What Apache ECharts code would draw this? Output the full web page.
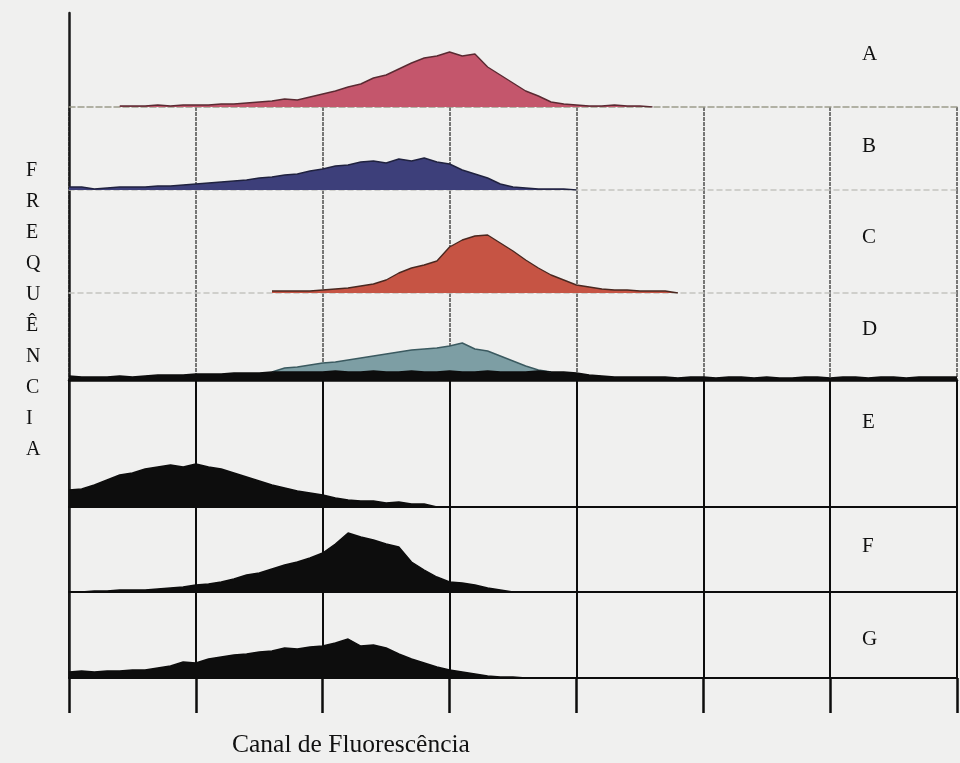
<!DOCTYPE html>
<html>
<head>
<meta charset="utf-8">
<script src="https://cdn.jsdelivr.net/npm/echarts@6/dist/echarts.min.js"></script>
<style>
  html, body { margin: 0; padding: 0; background: #f0f0ef; }
  #chart { width: 960px; height: 763px; }
</style>
</head>
<body>
<div id="chart"></div>
<script>
// fluorescence channel (x), 0..70, one grid division every 10 channels
const channels = Array.from({ length: 71 }, (_, i) => i);
const panelNames = ["A", "B", "C", "D", "E", "F", "G"];

// frequency (null = no events)
const freqA = [null, null, null, null, 1, 1, 1, 2, 1, 2,
  2, 2, 3, 3, 4, 5, 6, 8, 7, 10,
  13, 16, 20, 23, 29, 32, 38, 44, 49, 51,
  55, 51, 53, 40, 32, 24, 16, 11, 5, 3,
  2, 1, 1, 2, 1, 1, 0, null, null, null,
  null, null, null, null, null, null, null, null, null, null,
  null, null, null, null, null, null, null, null, null, null, null];
const freqB = [3, 3, 1, 2, 3, 3, 3, 4, 4, 5,
  6, 7, 8, 9, 10, 12, 13, 15, 16, 19,
  21, 24, 25, 28, 29, 27, 31, 29, 32, 28,
  26, 20, 16, 12, 6, 3, 2, 1, 1, 1,
  0, null, null, null, null, null, null, null, null, null,
  null, null, null, null, null, null, null, null, null, null,
  null, null, null, null, null, null, null, null, null, null, null];
const freqC = [null, null, null, null, null, null, null, null, null, null,
  null, null, null, null, null, null, 2, 2, 2, 2,
  3, 4, 5, 7, 9, 13, 20, 25, 28, 32,
  46, 53, 57, 58, 50, 42, 33, 25, 18, 13,
  8, 6, 4, 3, 3, 2, 2, 2, 0, null,
  null, null, null, null, null, null, null, null, null, null,
  null, null, null, null, null, null, null, null, null, null, null];
const freqDStained = [null, null, null, null, null, null, null, null, null, null,
  null, null, null, null, null, null, 8, 12, 13, 15,
  17, 18, 20, 22, 24, 26, 28, 30, 31, 32,
  34, 37, 31, 29, 24, 19, 14, 10, 8, null,
  null, null, null, null, null, null, null, null, null, null,
  null, null, null, null, null, null, null, null, null, null,
  null, null, null, null, null, null, null, null, null, null, null];
const freqDControl = [4, 3, 3, 3, 4, 3, 4, 5, 5, 5,
  6, 6, 6, 7, 7, 7, 8, 8, 8, 8,
  8, 9, 8, 8, 9, 8, 8, 9, 8, 8,
  9, 8, 8, 9, 8, 8, 8, 9, 8, 8,
  7, 5, 4, 3, 3, 3, 3, 3, 2, 3,
  3, 2, 3, 3, 2, 3, 2, 2, 3, 3,
  2, 3, 3, 2, 3, 3, 2, 3, 3, 3, 3];
const freqE = [17, 18, 22, 27, 32, 34, 38, 40, 42, 40,
  43, 40, 38, 34, 30, 26, 22, 19, 16, 14,
  12, 9, 7, 6, 6, 4, 5, 3, 3, 0,
  null, null, null, null, null, null, null, null, null, null,
  null, null, null, null, null, null, null, null, null, null,
  null, null, null, null, null, null, null, null, null, null,
  null, null, null, null, null, null, null, null, null, null, null];
const freqF = [0, 0, 1, 1, 2, 2, 2, 3, 4, 5,
  7, 8, 10, 13, 17, 19, 23, 27, 30, 34,
  39, 48, 59, 55, 52, 48, 45, 30, 22, 15,
  10, 9, 7, 4, 2, 0, null, null, null, null,
  null, null, null, null, null, null, null, null, null, null,
  null, null, null, null, null, null, null, null, null, null,
  null, null, null, null, null, null, null, null, null, null, null];
const freqG = [6, 7, 6, 7, 7, 8, 8, 10, 12, 16,
  15, 19, 21, 23, 24, 26, 27, 30, 29, 31,
  32, 35, 39, 32, 33, 30, 24, 19, 15, 11,
  8, 6, 4, 2, 1, 1, 0, null, null, null,
  null, null, null, null, null, null, null, null, null, null,
  null, null, null, null, null, null, null, null, null, null,
  null, null, null, null, null, null, null, null, null, null, null];

// panel frames (pixels) and y range of each panel
const panelTop = [13, 107, 190, 293, 380, 507, 592];
const panelHeight = [94, 83, 103, 87, 127, 85, 86];

const black = "#0d0d0d";

function pairs(values) {
  return channels.map((c, i) => [c, values[i]]);
}

function histo(name, values, panel, fill, edge) {
  return {
    name: name,
    type: "line",
    xAxisIndex: panel,
    yAxisIndex: panel,
    data: pairs(values),
    symbol: "none",
    connectNulls: false,
    lineStyle: { color: edge, width: 1.4 },
    areaStyle: { color: fill, opacity: 1 },
    animation: false
  };
}

const grids = [];
const xAxes = [];
const yAxes = [];
panelNames.forEach((p, k) => {
  grids.push({ left: 69, right: 3, top: panelTop[k], height: panelHeight[k] });
  let baseLine;
  if (k === 0) baseLine = { color: "#9c9c8c", width: 1.5, type: [6, 3] };
  else if (k < 3) baseLine = { color: "#c4c4c0", width: 1.5, type: [5, 4] };
  else baseLine = { color: black, width: k === 3 ? 2.5 : 2 };
  xAxes.push({
    gridIndex: k,
    type: "value",
    min: 0,
    max: 70,
    interval: 10,
    axisLine: { show: true, lineStyle: baseLine },
    axisTick: {
      show: k === 6,
      length: 35,
      inside: false,
      lineStyle: { color: black, width: 2.5 }
    },
    axisLabel: { show: false },
    splitLine: {
      show: k > 0,
      lineStyle: k < 4
        ? { color: "#4d4d4d", width: 1.5, type: [4, 1] }
        : { color: black, width: 2 }
    }
  });
  yAxes.push({
    gridIndex: k,
    type: "value",
    min: 0,
    max: panelHeight[k],
    axisLine: { show: true, lineStyle: { color: "#1a1a1a", width: 2.5 } },
    axisTick: { show: false },
    axisLabel: { show: false },
    splitLine: { show: false }
  });
});

const series = [
  histo("A", freqA, 0, "#c4566c", "#5a2a32"),
  histo("B", freqB, 1, "#3d3f7a", "#20223f"),
  histo("C", freqC, 2, "#c65444", "#4a2820"),
  histo("D", freqDStained, 3, "#7d9ea4", "#3b5a60"),
  histo("D controle", freqDControl, 3, black, black),
  histo("E", freqE, 4, black, black),
  histo("F", freqF, 5, black, black),
  histo("G", freqG, 6, black, black)
];

const labelY = [55, 147, 238, 330, 423, 547, 640];
const graphics = panelNames.map((p, k) => ({
  type: "text",
  left: 862,
  top: labelY[k] - 11,
  style: {
    text: p,
    font: "21px 'Liberation Serif', serif",
    fill: "#111"
  }
}));
graphics.push({
  type: "text",
  left: 26,
  top: 155,
  style: {
    text: "F\nR\nE\nQ\nU\nÊ\nN\nC\nI\nA",
    font: "20px 'Liberation Serif', serif",
    lineHeight: 31,
    align: "center",
    fill: "#111"
  }
});
graphics.push({
  type: "text",
  left: 232,
  top: 732,
  style: {
    text: "Canal de Fluorescência",
    font: "25.5px 'Liberation Serif', serif",
    fill: "#111"
  }
});

const chart = echarts.init(document.getElementById("chart"));
chart.setOption({
  backgroundColor: "#f0f0ef",
  animation: false,
  grid: grids,
  xAxis: xAxes,
  yAxis: yAxes,
  series: series,
  graphic: graphics
});
</script>
</body>
</html>
